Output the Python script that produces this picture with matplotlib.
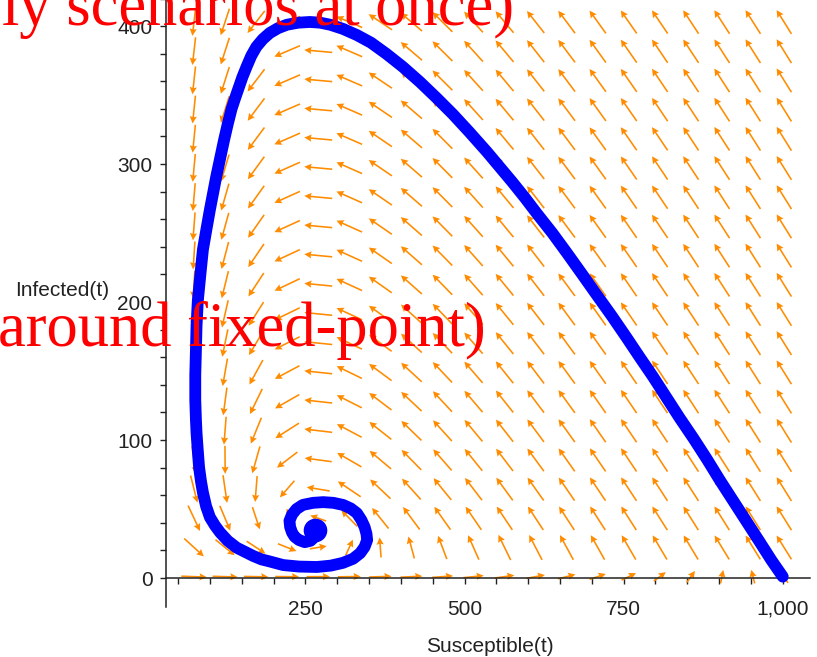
import numpy as np
import matplotlib.pyplot as plt
from matplotlib.ticker import FixedLocator, FuncFormatter

# trajectory (Susceptible, Infected)
traj_S = [1000, 982, 964, 943, 922, 901, 881, 860, 838, 817, 796, 776, 755, 732,
          708, 685, 661, 638, 614, 595, 575, 555, 535, 508, 482, 456, 430, 403,
          377, 353, 331, 309, 289, 273, 257, 239, 221, 207, 194, 183, 173, 165,
          158, 151, 145, 139, 134, 128, 122, 116, 110, 105, 100, 95, 89,
          85, 81, 79, 78, 77, 77, 78, 79, 81, 83, 86, 89, 94, 100, 108, 116,
          128, 142, 155, 168, 181, 194, 215, 240, 268, 290, 309, 325, 336, 343,
          347, 346, 343, 338, 331, 321, 309, 294, 278, 262, 246, 236, 229, 225,
          226, 229, 233, 240, 249, 258, 265, 268]
traj_I = [1, 13, 26, 41, 56, 71, 86, 101, 116, 131, 146, 159.5, 174, 189.5,
          205, 220, 235.5, 250, 264, 275.5, 287, 298, 309, 323, 336, 348, 359.5, 370.5,
          380, 388, 393.5, 398, 401, 402.5, 403, 402.5, 401, 398.5, 395, 390.5, 385, 378.5,
          371, 363, 355, 347, 340, 329, 317, 304, 291, 279, 267, 254, 238,
          220, 201, 183, 165, 147, 129, 115, 105, 92, 80, 70, 62, 52, 44, 38, 33,
          27, 22, 19, 16, 13.5, 12, 9.4, 8.3, 8, 9, 11, 14, 18, 22.5,
          27.5, 32, 37, 42, 47, 50.5, 53, 54.5, 55, 54.5, 53, 50, 46, 41.5,
          37, 33, 30, 27.5, 26, 27, 30, 34]
fixed_pt = (265, 35)

# SIR model with births/deaths behind the direction field
beta = 0.001
gamma = 0.2477
mu = 0.0123
N_pop = 1000
S_grid = np.linspace(75, 1002, 20)
I_grid = np.linspace(1, 403, 20)

x_ticks = [250, 500, 750, 1000]
y_ticks = [0, 100, 200, 300, 400]

xlim = (31, 1042)
ylim = (-21, 424)

W, H = 817, 657
fig = plt.figure(figsize=(W / 100, H / 100), dpi=100)
ax = fig.add_axes([166 / W, 50 / H, 643.5 / W, 614 / H])
ax.set_xlim(*xlim)
ax.set_ylim(*ylim)

# direction field
SS, II = np.meshgrid(S_grid, I_grid)
dS = mu * (N_pop - SS) - beta * SS * II
dI = beta * SS * II - (gamma + mu) * II
sx = 643.5 / (xlim[1] - xlim[0])
sy = 614 / (ylim[1] - ylim[0])
u = dS * sx
v = dI * sy
m = np.hypot(u, v)
L = np.clip(28 * (m / 10) ** 0.3, 13, 28)
u = u / m * L
v = v / m * L
ax.quiver(SS, II, u, v, angles='uv', scale_units='dots', scale=1,
          units='dots', width=1.6, headwidth=4.5, headlength=4.5,
          headaxislength=4, pivot='middle', color='#FF8C00', zorder=2)

# trajectory
ax.plot(traj_S, traj_I, color='#0000FF', lw=8.5, solid_joinstyle='round',
        solid_capstyle='round', zorder=3)
ax.plot([fixed_pt[0]], [fixed_pt[1]], 'o', ms=16, color='#0000FF', zorder=3)

# axes like maple
for s in ['top', 'right']:
    ax.spines[s].set_visible(False)
ax.spines['bottom'].set_position(('data', 0))
for s in ['left', 'bottom']:
    ax.spines[s].set_linewidth(1.1)
    ax.spines[s].set_color('#222222')

ax.xaxis.set_major_locator(FixedLocator(x_ticks))
ax.xaxis.set_minor_locator(FixedLocator([t for t in range(50, 1001, 50) if t not in x_ticks]))
ax.yaxis.set_major_locator(FixedLocator(y_ticks))
ax.yaxis.set_minor_locator(FixedLocator([t for t in range(20, 421, 20) if t not in y_ticks]))
ax.xaxis.set_major_formatter(FuncFormatter(lambda x, p: '{:,}'.format(int(x))))
ax.tick_params(which='both', direction='out', length=4.3, width=1.0, color='#222222')
ax.tick_params(axis='x', which='major', pad=11.5)
ax.tick_params(axis='y', which='major', pad=5.5)
for lab in ax.get_xticklabels() + ax.get_yticklabels():
    lab.set_fontfamily('Liberation Sans')
    lab.set_fontsize(15)
    lab.set_color('#222222')

fig.text(15 / W, 1 - 290 / H, 'Infected(t)', ha='left', va='center',
         family='Liberation Sans', fontsize=15, color='#222222')
fig.text(490 / W, 1 - 646 / H, 'Susceptible(t)', ha='center', va='center',
         family='Liberation Sans', fontsize=15, color='#222222')

# red overlay text from the slide
fig.text(2 / W, 1 - 25 / H, 'ly scenarios at once)', ha='left', va='baseline',
         family='Liberation Serif', fontsize=45, color='#FF0000', zorder=10)
fig.text(-2 / W, 1 - 346 / H, 'around fixed-point)', ha='left', va='baseline',
         family='Liberation Serif', fontsize=45, color='#FF0000', zorder=10)

fig.savefig('out.png', dpi=100)
